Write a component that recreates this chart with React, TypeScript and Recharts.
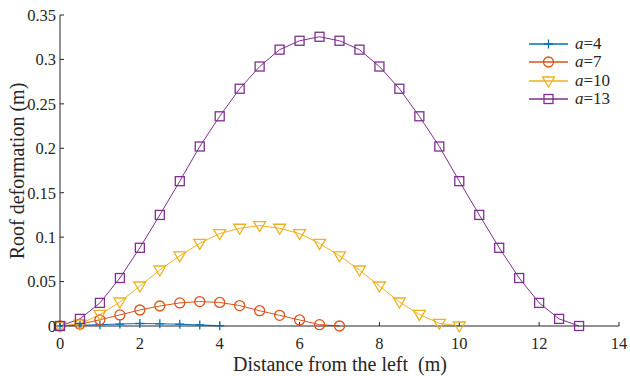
import React from 'react';
import { LineChart, Line, XAxis, YAxis, Label } from 'recharts';

// distance from the left (m)
const x4 = [0, 0.5, 1, 1.5, 2, 2.5, 3, 3.5, 4];
const x7 = [0, 0.5, 1, 1.5, 2, 2.5, 3, 3.5, 4, 4.5, 5, 5.5, 6, 6.5, 7];
const x10 = [0, 0.5, 1, 1.5, 2, 2.5, 3, 3.5, 4, 4.5, 5, 5.5, 6, 6.5, 7, 7.5, 8, 8.5, 9, 9.5, 10];
const x13 = [0, 0.5, 1, 1.5, 2, 2.5, 3, 3.5, 4, 4.5, 5, 5.5, 6, 6.5, 7, 7.5, 8, 8.5, 9, 9.5, 10, 10.5, 11, 11.5, 12, 12.5, 13];

// roof deformation (m)
const a4 = [0, 0.0008, 0.0015, 0.0022, 0.0028, 0.0025, 0.002, 0.0012, 0.0003];
const a7 = [0, 0.002, 0.007, 0.0125, 0.018, 0.0225, 0.026, 0.0275, 0.0265, 0.023, 0.0172, 0.012, 0.0068, 0.0015, 0];
const a10 = [0, 0.002, 0.013, 0.027, 0.045, 0.063, 0.079, 0.093, 0.104, 0.11, 0.113, 0.11, 0.104, 0.093, 0.079, 0.063, 0.045, 0.027, 0.013, 0.003, 0];
const a13 = [0, 0.008, 0.026, 0.054, 0.088, 0.125, 0.163, 0.202, 0.236, 0.267, 0.292, 0.311, 0.321, 0.3255, 0.321, 0.311, 0.292, 0.267, 0.236, 0.202, 0.163, 0.125, 0.088, 0.054, 0.026, 0.008, 0];

const xTicks = [0, 2, 4, 6, 8, 10, 12, 14];
const yTicks = [0, 0.05, 0.1, 0.15, 0.2, 0.25, 0.3, 0.35];

const BLUE = '#0072BD';
const ORANGE = '#D95319';
const YELLOW = '#EDB120';
const PURPLE = '#7E2F8E';
const INK = '#262626';
const FONT = "'Liberation Serif', 'Times New Roman', serif";

const toRows = (xs: number[], ys: number[]) => xs.map((x, i) => ({ x, y: ys[i] }));

const Plus = ({ cx, cy, color }: any) => (
  <path d={`M${cx - 4.5},${cy}h9M${cx},${cy - 4.5}v9`} stroke={color} strokeWidth={1.3} fill="none" />
);
const Circ = ({ cx, cy, color }: any) => (
  <circle cx={cx} cy={cy} r={5} stroke={color} strokeWidth={1.3} fill="none" />
);
const Tri = ({ cx, cy, color }: any) => (
  <path d={`M${cx - 6},${cy - 4}L${cx + 6},${cy - 4}L${cx},${cy + 6}Z`} stroke={color} strokeWidth={1.3} fill="none" />
);
const Sq = ({ cx, cy, color }: any) => (
  <rect x={cx - 4.5} y={cy - 4.5} width={9} height={9} stroke={color} strokeWidth={1.3} fill="none" />
);

const dotFn = (Shape: any, color: string) => (p: any) => (
  <Shape key={`d-${color}-${p.index}`} cx={p.cx} cy={p.cy} color={color} />
);

const series = [
  { name: '4', data: toRows(x4, a4), color: BLUE, shape: Plus },
  { name: '7', data: toRows(x7, a7), color: ORANGE, shape: Circ },
  { name: '10', data: toRows(x10, a10), color: YELLOW, shape: Tri },
  { name: '13', data: toRows(x13, a13), color: PURPLE, shape: Sq },
];

const XTick = ({ x, y, payload }: any) => (
  <text x={x} y={y} dy="0.71em" textAnchor="middle" fill={INK} fontSize={16.5} fontFamily={FONT}>
    {String(payload.value)}
  </text>
);
const YTick = ({ x, y, payload }: any) => (
  <text x={x} y={y} dy="0.355em" textAnchor="end" fill={INK} fontSize={16.5} fontFamily={FONT}>
    {String(payload.value)}
  </text>
);

const LegendBox = () => (
  <div style={{ position: 'absolute', left: 526, top: 35, fontFamily: FONT, fontSize: 17, color: INK }}>
    {series.map(s => (
      <div key={s.name} style={{ display: 'flex', alignItems: 'center', height: 18.3 }}>
        <svg width={46} height={18}>
          <line x1={3} y1={9} x2={42} y2={9} stroke={s.color} strokeWidth={1.3} />
          <s.shape cx={22.5} cy={9} color={s.color} />
        </svg>
        <span style={{ marginLeft: 3, lineHeight: '18px' }}>
          <i>a</i>={s.name}
        </span>
      </div>
    ))}
  </div>
);

export default function App() {
  return (
    <div style={{ position: 'absolute', left: 0, top: 0, width: 630, height: 376, background: '#fff', fontFamily: FONT }}>
      <LineChart width={630} height={376} margin={{ top: 15, right: 11, bottom: 0, left: 0 }}>
        <XAxis
          type="number"
          dataKey="x"
          domain={[0, 14]}
          ticks={xTicks}
          interval={0}
          stroke={INK}
          tickSize={-4}
          tickMargin={15}
          height={50}
          tick={<XTick />}
        >
          <Label
            content={() => (
              <text x={340} y={371} textAnchor="middle" fill={INK} fontSize={20} fontFamily={FONT} style={{ whiteSpace: 'pre' }}>
                {'Distance from the left  (m)'}
              </text>
            )}
          />
        </XAxis>
        <YAxis
          type="number"
          domain={[0, 0.35]}
          ticks={yTicks}
          interval={0}
          width={60}
          stroke={INK}
          tickSize={-4}
          tickMargin={8}
          tick={<YTick />}
        >
          <Label
            content={() => (
              <text x={24} y={171} transform="rotate(-90, 24, 171)" textAnchor="middle" fill={INK} fontSize={20} fontFamily={FONT}>
                Roof deformation (m)
              </text>
            )}
          />
        </YAxis>
        {series.map(s => (
          <Line
            key={s.name}
            data={s.data}
            dataKey="y"
            type="linear"
            stroke={s.color}
            strokeWidth={1}
            dot={dotFn(s.shape, s.color)}
            activeDot={false}
            isAnimationActive={false}
          />
        ))}
      </LineChart>
      <LegendBox />
    </div>
  );
}
